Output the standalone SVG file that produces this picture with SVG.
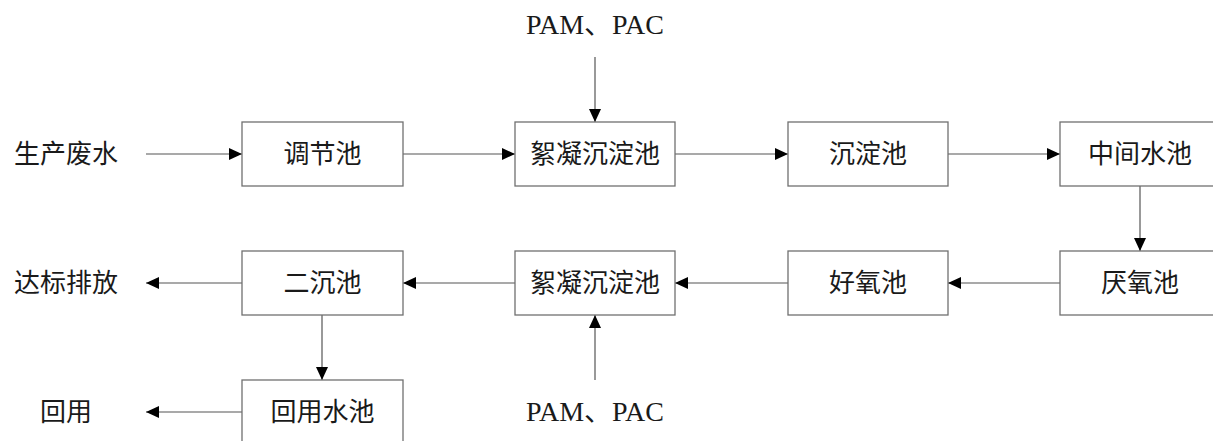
<svg xmlns="http://www.w3.org/2000/svg" width="1213" height="441" viewBox="0 0 1213 441">
<style>
.box{fill:#fff;stroke:#707070;stroke-width:1.3}
.cn{font-family:"Noto Sans CJK SC","Noto Sans CJK JP",sans-serif;font-size:26px;fill:#1a1a1a;text-anchor:middle}
.lat{font-family:"Liberation Serif","Noto Sans CJK SC",serif;font-size:28px;fill:#1a1a1a;text-anchor:middle}
.ln{stroke:#555;stroke-width:1.2;fill:none;marker-end:url(#ah)}
</style>
<defs>
<marker id="ah" markerUnits="userSpaceOnUse" markerWidth="13" markerHeight="12" refX="13" refY="6" orient="auto">
<path d="M0,0 L13,6 L0,12 Z" fill="#000"/>
</marker>
</defs>
<rect width="1213" height="441" fill="#fff"/>
<g id="connectors">
<line class="ln" x1="146" y1="154" x2="242" y2="154"/>
<line class="ln" x1="403" y1="154" x2="515" y2="154"/>
<line class="ln" x1="675" y1="154" x2="788" y2="154"/>
<line class="ln" x1="948" y1="154" x2="1060" y2="154"/>
<line class="ln" x1="595" y1="57" x2="595" y2="122"/>
<line class="ln" x1="1140" y1="186" x2="1140" y2="251"/>
<line class="ln" x1="1060" y1="283" x2="948" y2="283"/>
<line class="ln" x1="788" y1="283" x2="675" y2="283"/>
<line class="ln" x1="515" y1="283" x2="403" y2="283"/>
<line class="ln" x1="242" y1="283" x2="146" y2="283"/>
<line class="ln" x1="595" y1="380" x2="595" y2="315"/>
<line class="ln" x1="322" y1="315" x2="322" y2="380"/>
<line class="ln" x1="242" y1="412" x2="146" y2="412"/>
</g>
<g id="n-input"><text class="cn" x="66" y="163">生产废水</text></g>
<g id="n-tiaojie"><rect class="box" x="242" y="122" width="161" height="64"/><text class="cn" x="322.5" y="163">调节池</text></g>
<g id="n-xuning1"><rect class="box" x="515" y="122" width="160" height="64"/><text class="cn" x="595" y="163">絮凝沉淀池</text></g>
<g id="n-chendian"><rect class="box" x="788" y="122" width="160" height="64"/><text class="cn" x="868" y="163">沉淀池</text></g>
<g id="n-zhongjian"><rect class="box" x="1060" y="122" width="160" height="64"/><text class="cn" x="1140" y="163">中间水池</text></g>
<g id="n-pam1"><text class="lat" x="595" y="34">PAM、PAC</text></g>
<g id="n-yanyang"><rect class="box" x="1060" y="251" width="160" height="64"/><text class="cn" x="1140" y="292">厌氧池</text></g>
<g id="n-haoyang"><rect class="box" x="788" y="251" width="160" height="64"/><text class="cn" x="868" y="292">好氧池</text></g>
<g id="n-xuning2"><rect class="box" x="515" y="251" width="160" height="64"/><text class="cn" x="595" y="292">絮凝沉淀池</text></g>
<g id="n-erchen"><rect class="box" x="242" y="251" width="161" height="64"/><text class="cn" x="322.5" y="292">二沉池</text></g>
<g id="n-dabiao"><text class="cn" x="66" y="292">达标排放</text></g>
<g id="n-pam2"><text class="lat" x="595" y="421">PAM、PAC</text></g>
<g id="n-huiyongchi"><rect class="box" x="242" y="380" width="161" height="70"/><text class="cn" x="322.5" y="421">回用水池</text></g>
<g id="n-huiyong"><text class="cn" x="66" y="421">回用</text></g>
</svg>
